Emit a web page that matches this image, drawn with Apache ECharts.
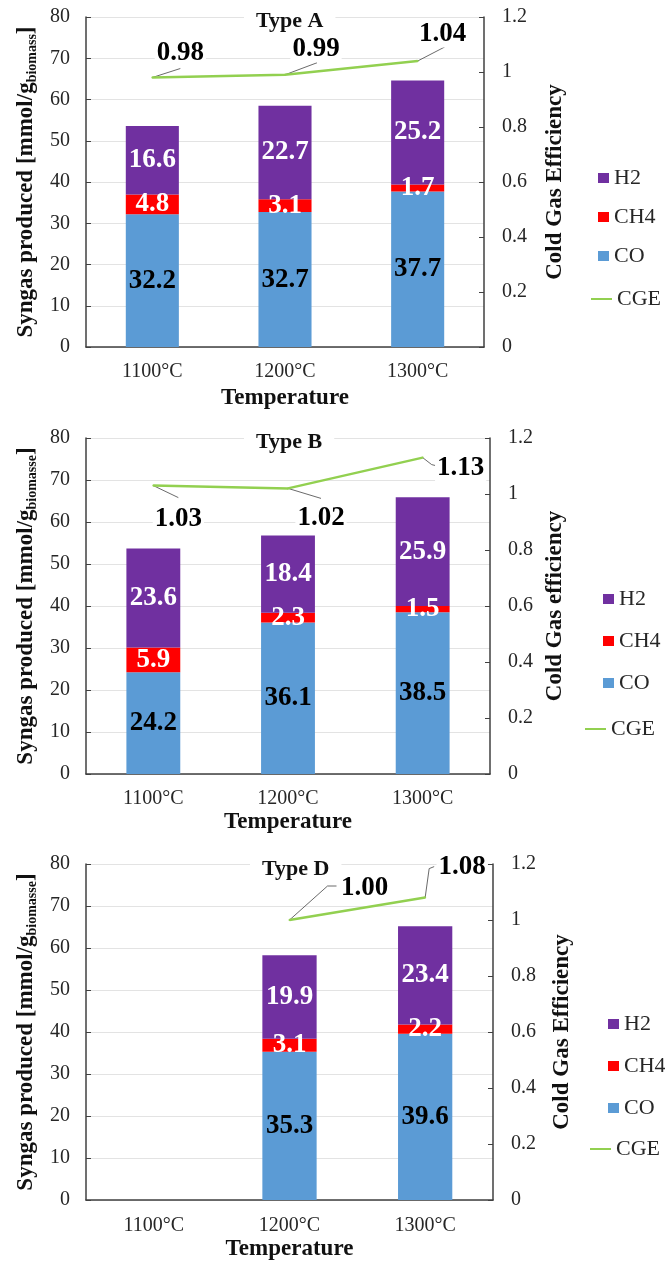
<!DOCTYPE html>
<html><head><meta charset="utf-8">
<script src="https://cdn.jsdelivr.net/npm/echarts@6/dist/echarts.min.js"></script>
<style>html,body{margin:0;padding:0;background:#fff}#c{width:665px;height:1269px}</style>
</head><body><div id="c"></div>
<script>
// ---------- data ----------
const categories = ['1100°C', '1200°C', '1300°C'];
const panelTitles = ['Type A', 'Type B', 'Type D'];
const subscripts = ['biomass', 'biomasse', 'biomasse'];
const rightTitles = ['Cold Gas Efficiency', 'Cold Gas efficiency', 'Cold Gas Efficiency'];
const leftTicks = [0, 80, 10];     // min, max, step
const rightTicks = [0, 1.2, 0.2];

const coA = [32.2, 32.7, 37.7];
const ch4A = [4.8, 3.1, 1.7];
const h2A = [16.6, 22.7, 25.2];
const cgeA = [0.98, 0.99, 1.04];

const coB = [24.2, 36.1, 38.5];
const ch4B = [5.9, 2.3, 1.5];
const h2B = [23.6, 18.4, 25.9];
const cgeB = [1.03, 1.02, 1.13];

const coD = [null, 35.3, 39.6];
const ch4D = [null, 3.1, 2.2];
const h2D = [null, 19.9, 23.4];
const cgeD = [null, 1.00, 1.08];

// ---------- layout / style ----------
const SERIF = "'Liberation Serif', 'Times New Roman', serif";
const C = { CO: '#5B9BD5', CH4: '#FF0000', H2: '#7030A0', CGE: '#92D050', axis: '#404040', grid: '#E3E3E3', text: '#262626' };
const panels = [
  { co: coA, ch4: ch4A, h2: h2A, cge: cgeA,
    grid: { left: 86, top: 17, width: 398, height: 330 },
    title: { left: 244, top: 8 },
    legBar: { left: 593, top: 162, gap: 17 }, legLine: { left: 586, top: 283 },
    rightGap: 60, leftGap: 47, xLabelMargin: 15, xNameGap: 40,
    shifts: [[28, -24], [31, -26], [25, -27]],
    leaders: [[[28, -9]], [[32, -12]], [[27, -14]]] },
  { co: coB, ch4: ch4B, h2: h2B, cge: cgeB,
    grid: { left: 86, top: 438, width: 404, height: 336 },
    title: { left: 244, top: 429 },
    legBar: { left: 598, top: 583, gap: 20 }, legLine: { left: 580, top: 713 },
    rightGap: 54, leftGap: 47, xLabelMargin: 15, xNameGap: 37,
    shifts: [[25, 33], [33, 30], [38, 10]],
    leaders: [[[25, 12]], [[33, 10]], [[9, 7], [13, 8]]] },
  { co: coD, ch4: ch4D, h2: h2D, cge: cgeD,
    grid: { left: 86, top: 864, width: 407, height: 336 },
    title: { left: 250, top: 856 },
    legBar: { left: 603, top: 1008, gap: 20 }, legLine: { left: 585, top: 1133 },
    rightGap: 58, leftGap: 47, xLabelMargin: 16, xNameGap: 38,
    shifts: [null, [75, -32], [37, -31]],
    leaders: [null, [[38, -34], [47, -34]], [[4, -29], [9, -31]]] }
];

const option = { animation: false, backgroundColor: '#fff',
  grid: [], xAxis: [], yAxis: [], series: [], title: [], legend: [] };

panels.forEach((p, i) => {
  option.grid.push(Object.assign({ containLabel: false }, p.grid));
  option.title.push({
    text: panelTitles[i], left: p.title.left, top: p.title.top,
    backgroundColor: '#fff', padding: [2, 12],
    textStyle: { fontFamily: SERIF, fontSize: 22, fontWeight: 'bold', color: '#111' }
  });
  option.xAxis.push({
    type: 'category', gridIndex: i, data: categories,
    axisLine: { lineStyle: { color: C.axis, width: 1.5 } },
    axisTick: { show: false },
    axisLabel: { fontFamily: SERIF, fontSize: 20, color: C.text, margin: p.xLabelMargin },
    name: 'Temperature', nameLocation: 'middle', nameGap: p.xNameGap,
    nameTextStyle: { fontFamily: SERIF, fontSize: 23, fontWeight: 'bold', color: '#111' }
  });
  option.yAxis.push({
    type: 'value', gridIndex: i, min: leftTicks[0], max: leftTicks[1], interval: leftTicks[2],
    axisLine: { show: true, lineStyle: { color: C.axis, width: 1.5 } },
    axisTick: { show: true, inside: true, length: 5, lineStyle: { color: C.axis } },
    axisLabel: { fontFamily: SERIF, fontSize: 20, color: C.text, margin: 16 },
    splitLine: { show: true, lineStyle: { color: C.grid, width: 1 } },
    name: '{a|Syngas produced [mmol/g}{s|' + subscripts[i] + '}{a|]}',
    nameLocation: 'middle', nameRotate: 90, nameGap: p.leftGap,
    nameTextStyle: {
      rich: {
        a: { fontFamily: SERIF, fontSize: 23, fontWeight: 'bold', color: '#111', lineHeight: 26 },
        s: { fontFamily: SERIF, fontSize: 14, fontWeight: 'bold', color: '#111', lineHeight: 12, verticalAlign: 'bottom' }
      }
    }
  });
  option.yAxis.push({
    type: 'value', gridIndex: i, position: 'right', min: rightTicks[0], max: rightTicks[1], interval: rightTicks[2],
    axisLine: { show: true, lineStyle: { color: C.axis, width: 1.5 } },
    axisTick: { show: true, inside: true, length: 5, lineStyle: { color: C.axis } },
    axisLabel: { fontFamily: SERIF, fontSize: 20, color: C.text, margin: 18,
      formatter: v => String(Math.round(v * 10) / 10) },
    splitLine: { show: false },
    name: rightTitles[i], nameLocation: 'middle', nameRotate: 90, nameGap: p.rightGap,
    nameTextStyle: { fontFamily: SERIF, fontSize: 23, fontWeight: 'bold', color: '#111' }
  });

  const barLabel = (color) => ({
    show: true, position: 'inside', color: color, fontFamily: SERIF, fontSize: 27, fontWeight: 'bold',
    formatter: prm => (prm.value == null ? '' : Number(prm.value).toFixed(1))
  });
  const stack = 'gas' + i;
  [['CO', p.co, '#000'], ['CH4', p.ch4, '#fff'], ['H2', p.h2, '#fff']].forEach(([nm, vals, lc]) => {
    option.series.push({
      type: 'bar', name: nm, stack: stack, xAxisIndex: i, yAxisIndex: 2 * i,
      data: vals, barWidth: '40%', itemStyle: { color: C[nm] },
      label: barLabel(lc)
    });
  });
  const shifts = p.shifts;
  const leaders = p.leaders;
  // leader lines for the CGE labels, anchored on the data points through the axes
  option.series.push({
    type: 'custom', name: 'leader', xAxisIndex: i, yAxisIndex: 2 * i + 1, z: 4, silent: true,
    data: p.cge.map((v, j) => [j, v]).filter(d => d[1] != null),
    renderItem: (params, api) => {
      const j = api.value(0);
      const pt = api.coord([j, api.value(1)]);
      const segs = leaders[j] || [];
      const pts = [pt].concat(segs.map(s => [pt[0] + s[0], pt[1] + s[1]]));
      return { type: 'polyline', shape: { points: pts }, style: { stroke: '#595959', lineWidth: 0.9, fill: null } };
    }
  });
  option.series.push({
    type: 'line', name: 'CGE', xAxisIndex: i, yAxisIndex: 2 * i + 1, data: p.cge,
    symbol: 'circle', symbolSize: 2, showSymbol: true,
    itemStyle: { color: C.CGE }, lineStyle: { color: C.CGE, width: 2.5 },
    z: 5,
    label: { show: true, position: 'inside', fontFamily: SERIF, fontSize: 27, fontWeight: 'bold', color: '#000',
      backgroundColor: '#fff', padding: [0, 2],
      formatter: prm => Number(prm.value).toFixed(2) },
    labelLayout: prm => {
      const s = shifts[prm.dataIndex] || [0, 0];
      return { dx: s[0], dy: s[1] };
    }
  });

  option.legend.push({
    orient: 'vertical', left: p.legBar.left, top: p.legBar.top, itemGap: p.legBar.gap,
    itemWidth: 11, itemHeight: 10, icon: 'rect', selectedMode: false,
    data: ['H2', 'CH4', 'CO'],
    textStyle: { fontFamily: SERIF, fontSize: 22, color: C.text, lineHeight: 20 }
  });
  option.legend.push({
    orient: 'vertical', left: p.legLine.left, top: p.legLine.top,
    itemWidth: 21, itemHeight: 2, icon: 'rect', selectedMode: false,
    data: ['CGE'],
    textStyle: { fontFamily: SERIF, fontSize: 22, color: C.text, lineHeight: 20 }
  });
});

const chart = echarts.init(document.getElementById('c'), null, { renderer: 'canvas' });
chart.setOption(option);
</script>
</body></html>
